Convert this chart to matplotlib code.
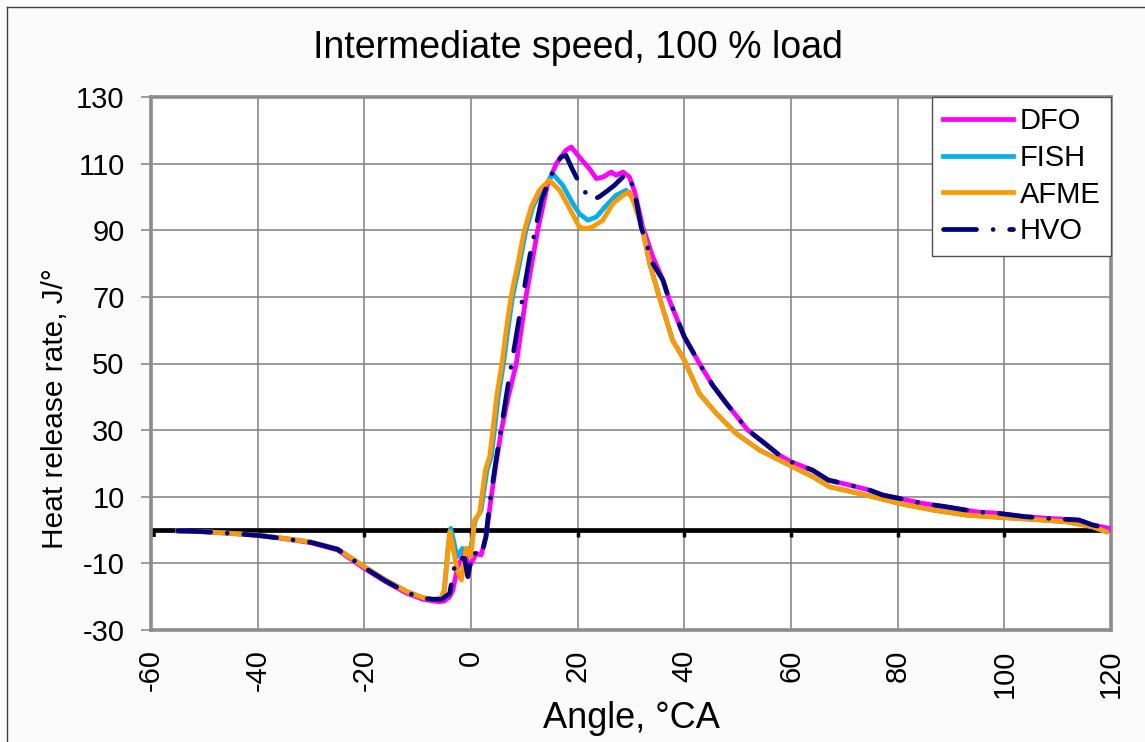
import matplotlib
matplotlib.use("Agg")
import matplotlib.pyplot as plt
from matplotlib.lines import Line2D
import numpy as np

plt.rcParams['font.family'] = ['Liberation Sans', 'DejaVu Sans']
plt.rcParams['axes.unicode_minus'] = False

title = "Intermediate speed, 100 % load"
xlabel = "Angle, °CA"
ylabel = "Heat release rate, J/°"
x_ticks = [-60, -40, -20, 0, 20, 40, 60, 80, 100, 120]
y_ticks = [-30, -10, 10, 30, 50, 70, 90, 110, 130]

series_names = ["DFO", "FISH", "AFME", "HVO"]
series_colors = ["#FF00FF", "#00B0F0", "#FF9900", "#000080"]

dfo_x = [-55, -50, -45, -40, -35, -30, -25, -20, -16, -12, -9, -7, -6, -5, -4, -3.4, -2.5,
         -1.2, -0.3, 1, 1.9, 2.8, 3.8, 4.7, 5.7, 7, 8.5, 9.4, 10.3, 12.5, 14.4, 16, 17.8, 18.8,
         20.3, 22.2, 23.5, 24.8, 26.3, 27.2, 28.5, 29.7, 30.7, 32.2, 34.1, 36, 37.2, 40, 43.2,
         45.3, 47.9, 51.9, 54.7, 57.8, 60, 64, 67, 71, 74.7, 77.2, 80.3, 84.7, 89, 94.7, 99,
         104, 108.5, 114, 116.6, 119.7]
dfo_y = [-0.3, -0.5, -1, -1.6, -2.6, -3.8, -6, -11.5, -15.5, -19, -20.8, -21.3, -21.5, -21.3,
         -20, -18, -11, -7, -11, -7, -7.5, -2, 10, 20, 30, 40, 50, 60, 70, 90, 104, 110, 114,
         115, 112, 108.5, 105.5, 106, 107.5, 106.5, 107.5, 106, 101.5, 91, 82, 75, 69, 58, 49,
         43.5, 38, 30, 26.5, 22.5, 20.5, 18, 15, 13.5, 12, 10.5, 9.5, 8, 7, 5.5, 5,
         4, 3.5, 3, 1.5, 0.5]

fish_x = [-55, -50, -45, -40, -35, -30, -25, -20, -16, -12, -9, -7, -5.6, -5, -4.3, -3.8,
          -3.3, -2.6, -1.6, -0.8, 0, 0.8, 1.9, 3, 3.8, 4.4, 5.1, 6.1, 6.9, 7.8, 9.1, 10.3,
          11.6, 13.1, 14.6, 15.3, 17.2, 19.1, 20.3, 21.9, 23.5, 25.4, 27.2, 29.1, 29.9, 30.8,
          32.2, 33.5, 35.3, 37.8, 40, 42.8, 46, 49.7, 54.1, 59.1, 64.1, 67.2, 74.1, 80.3,
          86.6, 92.9, 99.1, 105.3, 111.6, 116.5, 119.1]
fish_y = [-0.3, -0.5, -1, -1.5, -2.5, -3.6, -5.7, -11, -15, -18.5, -20.3, -20.8, -20.5, -18,
          -5, 0.5, -3, -8, -5.5, -7, -5, 3, 6, 18, 22, 30, 40, 50, 60, 70, 80, 90,
          97, 102, 105, 107, 103.5, 98, 95, 93, 94, 97.5, 100.5, 102, 100.5, 98,
          90, 80, 70, 57, 51, 41, 35, 29, 24, 20, 16, 13, 10.5, 8,
          6, 4.5, 3.8, 3.2, 2.5, 1, -0.5]

afme_x = [-55, -50, -45, -40, -35, -30, -25, -20, -16, -12, -9, -7, -5.6, -5, -4, -3.3,
          -2.6, -1.8, -0.9, 0, 0.65, 1.6, 2.7, 3.5, 4.1, 4.8, 5.8, 6.6, 7.5, 8, 8.8, 10,
          11.3, 12.8, 14.7, 16.6, 18.5, 20.3, 21.5, 22.8, 24.7, 26.6, 28.5, 29.7, 30.6,
          32.2, 33.5, 35.3, 37.8, 40, 42.8, 46, 49.7, 54.1, 59.1, 64.1, 67.2, 74.1, 80.3,
          86.6, 92.9, 99.1, 105.3, 111.6, 116.5, 119.1]
afme_y = [-0.3, -0.5, -1, -1.5, -2.5, -3.6, -5.7, -11, -15, -18.5, -20.3, -20.8, -20.5, -18,
          -0.5, -6, -12, -15, -5.4, -8, 3, 5, 18, 22, 30, 40, 50, 60, 70, 74, 80, 90,
          97, 102, 105, 102, 96.5, 91, 90.5, 91, 93, 98, 100.5, 101.5, 98,
          90, 80, 70, 57, 51, 41, 35, 29, 24, 20, 16, 13, 10.5, 8,
          6, 4.5, 3.8, 3.2, 2.5, 1, -0.5]

hvo_x = [-55, -50, -45, -40, -35, -30, -25, -20, -16, -12, -9, -7, -5.5, -4, -2.8, -1.2,
         -0.6, 0.3, 1.9, 2.8, 3.5, 4.7, 7.2, 9.4, 11, 13.2, 14.4, 16, 16.9, 17.8, 18.8, 20.5,
         22.5, 24, 25.7, 26.9, 29.1, 30.5, 31.9, 34.1, 36, 37.2, 40, 43.2, 45.3, 47.9, 51.9,
         54.7, 57.8, 60, 64, 67, 71, 74.7, 77.2, 80.3, 84.7, 89, 94.7, 99, 104, 108.5, 114,
         116.6, 119.7]
hvo_y = [-0.2, -0.5, -1, -1.6, -2.6, -3.7, -5.8, -11.3, -15.3, -18.8, -20.5, -20.8, -20.8,
         -19, -8.5, -8.5, -14, -6.5, -8, -2, 8, 21, 46, 67, 82, 99, 104, 110, 112, 112.5, 109,
         103.5, 99, 100, 102, 103.5, 107, 103, 91, 80, 75, 69, 58, 49, 43.5, 38, 30,
         26.5, 22.5, 20.5, 18, 15, 13.5, 12, 10.5, 9.5, 8, 7, 5.5, 5, 4, 3.5, 3,
         1.5, 0.5]

W, H = 1145, 742
fig = plt.figure(figsize=(W / 100, H / 100), dpi=100)
fig.patch.set_facecolor("#fbfbfb")

# figure border (left and top visible)
fig.add_artist(Line2D([7 / W, 7 / W], [0, 1 - 7 / H], transform=fig.transFigure,
                      color="#404040", lw=1.0))
fig.add_artist(Line2D([7 / W, 1], [1 - 7 / H, 1 - 7 / H], transform=fig.transFigure,
                      color="#404040", lw=1.0))

left, right = 151 / W, 1111 / W
top, bottom = 1 - 97 / H, 1 - 630 / H
ax = fig.add_axes([left, bottom, right - left, top - bottom])
ax.set_facecolor("white")

ax.set_xlim(-60, 120)
ax.set_ylim(-30, 130)
ax.set_xticks(x_ticks)
ax.set_yticks(y_ticks)
ax.grid(True, color="#808080", lw=1.1, zorder=0)
ax.set_axisbelow(True)
for s in ax.spines.values():
    s.set_color("#8c8c8c")
    s.set_linewidth(2.6)

ax.tick_params(axis="y", direction="out", length=7, width=1.2, color="#8c8c8c",
               labelsize=21, pad=12)
ax.tick_params(axis="x", direction="out", length=0, labelsize=21, pad=14,
               labelrotation=90)

# zero line with tick marks (secondary axis)
ax.axhline(0, color="black", lw=3.4, zorder=2)
ax.vlines(x_ticks[1:-1], -2.2, 0, color="black", lw=2.5, zorder=2)
ax.vlines([x_ticks[0] + 0.3], -2.2, 0, color="black", lw=4, zorder=2)

lw = 3.4
ax.plot(dfo_x, dfo_y, color=series_colors[0], lw=lw, zorder=3, label=series_names[0],
        solid_joinstyle="round")
ax.plot(fish_x, fish_y, color=series_colors[1], lw=lw, zorder=4, label=series_names[1],
        solid_joinstyle="round")
ax.plot(afme_x, afme_y, color=series_colors[2], lw=lw, zorder=5, label=series_names[2],
        solid_joinstyle="round")
ax.plot(hvo_x, hvo_y, color=series_colors[3], lw=lw, zorder=6, label=series_names[3],
        dashes=(7, 3.5, 0.01, 3.5), dash_capstyle="round")

leg = ax.legend(loc="upper right", bbox_to_anchor=(1.0, 1.0), fontsize=21,
                frameon=True, fancybox=False, shadow=False, handlelength=2.4,
                handletextpad=0.25, borderpad=0.35, labelspacing=0.3,
                borderaxespad=0.0, framealpha=1)
leg.get_frame().set_edgecolor("#505050")
leg.get_frame().set_linewidth(1.0)

fig.text(578 / W, 1 - 48 / H, title, ha="center", va="center", fontsize=27)
fig.text(0.5 * (left + right), 1 - 718 / H, xlabel, ha="center", va="center", fontsize=26)
fig.text(55 / W, 1 - 409 / H, ylabel, ha="center", va="center", fontsize=21.5, rotation=90)

fig.savefig("out.png", dpi=100, facecolor=fig.get_facecolor())
